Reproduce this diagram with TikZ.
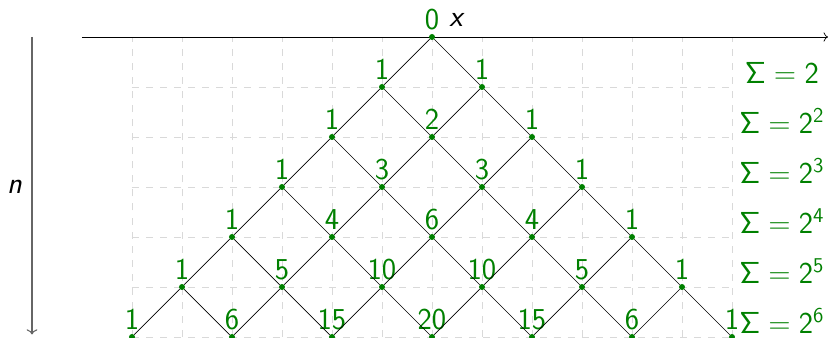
\documentclass[tikz,border=0pt]{standalone}
\usetikzlibrary{arrows.meta}
\definecolor{ptgreen}{RGB}{0,128,0}

\begin{document}
\begin{tikzpicture}[
  pt/.style={circle, fill=ptgreen, inner sep=0pt, minimum size=0.12cm},
  lbl/.style={font=\LARGE\sffamily, text=ptgreen, inner sep=2pt},
  sumlbl/.style={font=\LARGE, text=ptgreen, anchor=south, inner sep=2pt},
  gridline/.style={gray!30, dash pattern=on 4pt off 4pt}
]
\useasboundingbox (-8.64,-6.02) rectangle (7.92,0.74);

% ---- Grid and axes ----
\draw[gridline] (-6,-6) grid (6,0);
\coordinate (xstart) at (-7,0);
\coordinate (xend) at (7.92,0);
\coordinate (nstart) at (-8,0);
\coordinate (nend) at (-8,-5.95);
\draw[->] (xstart) -- (xend);
\draw[black!60, line width=0.6pt, ->] (nstart) -- (nend);
\node[font=\LARGE\sffamily\itshape] (xlab) at (0.48,0.34) {x};
\node[font=\LARGE\sffamily\itshape] (nlab) at (-8.35,-3) {n};

% ---- Lattice points ----
\foreach \vals [count=\r from 0] in {{0},{1,1},{1,2,1},{1,3,3,1},{1,4,6,4,1},{1,5,10,10,5,1},{1,6,15,20,15,6,1}} {
  \foreach \v [count=\k from 0] in \vals {
    \node[pt, label={[lbl]above:\v}] (p-\r-\k) at ({2*\k-\r},-\r) {};
  }
}

% ---- Paths ----
\foreach \r in {0,...,5} {
  \foreach \k in {0,...,\r} {
    \pgfmathtruncatemacro{\rn}{\r+1}
    \pgfmathtruncatemacro{\kn}{\k+1}
    \draw (p-\r-\k) -- (p-\rn-\k);
    \draw (p-\r-\k) -- (p-\rn-\kn);
  }
}

% ---- Row sums ----
\node[sumlbl] (sum-1) at (7,-1) {$\mathsf{\Sigma=2}$};
\foreach \r in {2,...,6} {
  \node[sumlbl] (sum-\r) at (7,-\r) {$\mathsf{\Sigma=2^{\r}}$};
}

\end{tikzpicture}
\end{document}
